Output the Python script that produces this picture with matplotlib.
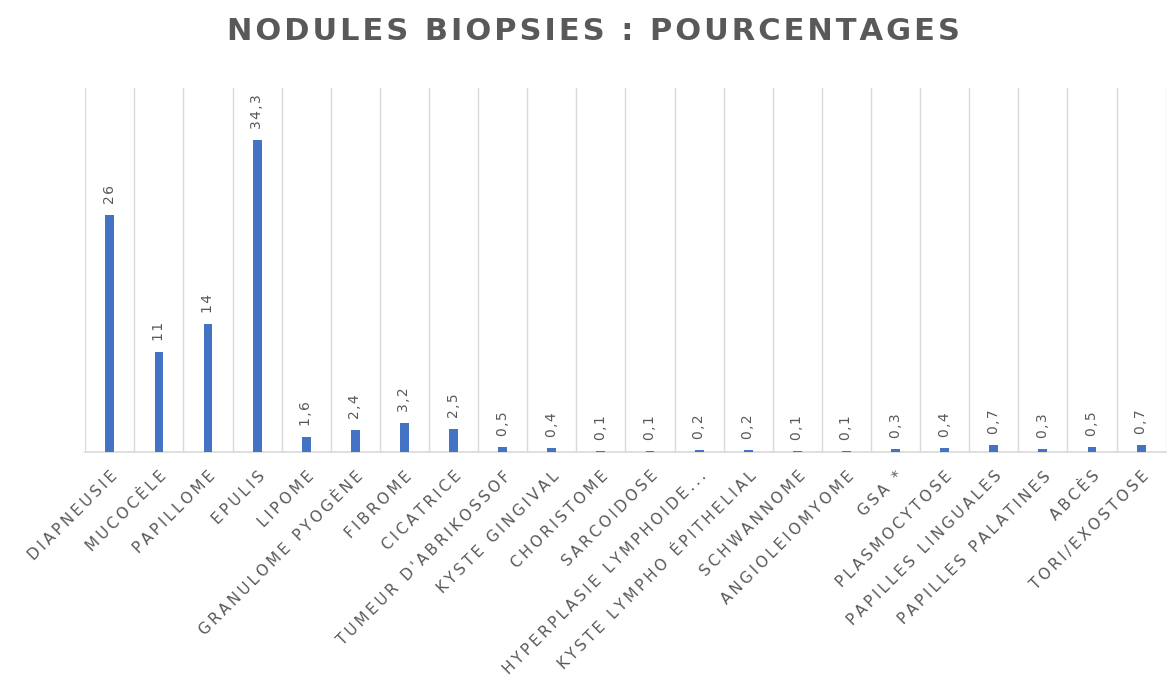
import numpy as np
import matplotlib.pyplot as plt

categories = ["DIAPNEUSIE", "MUCOCÈLE", "PAPILLOME", "EPULIS", "LIPOME",
              "GRANULOME PYOGÈNE", "FIBROME", "CICATRICE", "TUMEUR D'ABRIKOSSOF",
              "KYSTE GINGIVAL", "CHORISTOME", "SARCOIDOSE", "HYPERPLASIE LYMPHOIDE...",
              "KYSTE LYMPHO ÉPITHELIAL", "SCHWANNOME", "ANGIOLEIOMYOME", "GSA *",
              "PLASMOCYTOSE", "PAPILLES LINGUALES", "PAPILLES PALATINES", "ABCÈS",
              "TORI/EXOSTOSE"]
values = [26, 11, 14, 34.3, 1.6, 2.4, 3.2, 2.5, 0.5, 0.4, 0.1, 0.1, 0.2, 0.2,
          0.1, 0.1, 0.3, 0.4, 0.7, 0.3, 0.5, 0.7]

grey = '#595959'
blue = '#4472C4'


def spaced(s, sep='\u2009'):
    # fake the letter spacing of the original
    return sep.join(s)


fig = plt.figure(figsize=(11.68, 6.93), dpi=100)
ax = fig.add_axes([0.073, 0.348, 0.925, 0.525])

x = np.arange(len(categories))
ax.bar(x, values, width=0.18, color=blue, zorder=3)

for xi, v in zip(x, values):
    lbl = f"{v:g}".replace('.', ',')
    ax.annotate(spaced(lbl, '\u200a'), (xi, v), xytext=(0, 8), textcoords='offset points',
                rotation=90, ha='center', va='bottom', fontsize=10, color=grey)

ax.set_xlim(-0.5, len(categories) - 0.5)
ax.set_ylim(0, 40)

# vertical separators between categories
for b in np.arange(-0.5, len(categories), 1.0):
    ax.axvline(b, color='#d9d9d9', lw=1, zorder=1)

ax.set_xticks(x)
ax.set_xticklabels([spaced(c) for c in categories], rotation=45, ha='right',
                   rotation_mode='anchor', fontsize=11, color=grey)
ax.tick_params(axis='x', length=0, pad=12)
ax.set_yticks([])

for s in ['top', 'right', 'left']:
    ax.spines[s].set_visible(False)
ax.spines['bottom'].set_color('#d9d9d9')
ax.spines['bottom'].set_linewidth(1.2)

fig.text(0.508, 0.955, spaced("NODULES BIOPSIES : POURCENTAGES", '\u200a'),
         ha='center', va='center', fontsize=22, fontweight='bold', color=grey)

fig.savefig('out.png', dpi=100)
